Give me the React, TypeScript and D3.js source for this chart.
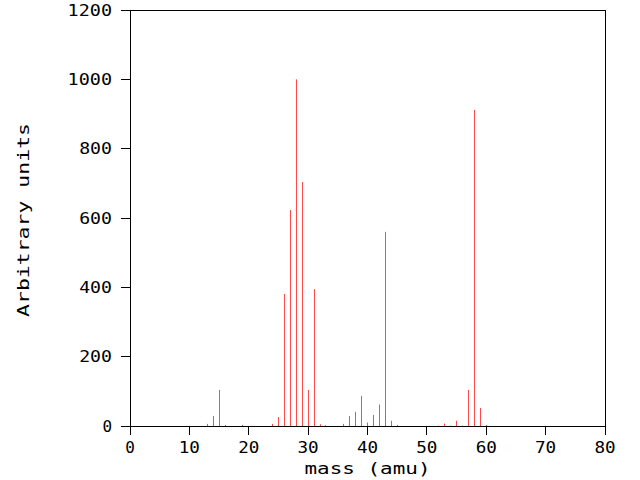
import React from "react";
import * as d3 from "d3";

const masses = [13, 14, 15, 16, 19, 24, 25, 26, 27, 28, 29, 30, 31, 32, 33, 36, 37, 38, 39, 40, 41, 42, 43, 44, 45, 52, 53, 54, 55, 56, 57, 58, 59, 60];
const intensities = [6, 29, 104, 3, 3, 6, 26, 381, 623, 1000, 704, 104, 395, 5, 2, 6, 29, 41, 87, 10, 32, 62, 560, 15, 3, 1, 7, 1, 15, 1, 104, 912, 52, 3];
const xTicks = [0, 10, 20, 30, 40, 50, 60, 70, 80];
const yTicks = [0, 200, 400, 600, 800, 1000, 1200];
const xLabel = "mass (amu)";
const yLabel = "Arbitrary units";

const W = 640;
const H = 480;
const left = 130;
const right = 605;
const top = 10;
const bottom = 426;
const font = "'DejaVu Sans Mono', monospace";
const pitch = 11.6;

export default function App() {
  const x = d3.scaleLinear().domain([0, 80]).range([left, right]);
  const y = d3.scaleLinear().domain([0, 1200]).range([bottom, top]);
  const px = (v: number) => Math.floor(v) + 0.5;

  return (
    <svg width={W} height={H} style={{ position: "absolute", left: 0, top: 0, background: "#fff" }}>
      <rect x={0} y={0} width={W} height={H} fill="#fff" />
      {masses.map((m, i) => (
        <line
          key={m}
          x1={px(x(m))}
          x2={px(x(m))}
          y1={bottom}
          y2={y(intensities[i])}
          stroke="#ff4a4a"
          strokeWidth={1}
        />
      ))}
      <rect x={left + 0.5} y={top + 0.5} width={right - left} height={bottom - top} fill="none" stroke="#000" strokeWidth={1} />
      {xTicks.map((t) => (
        <g key={"x" + t}>
          <line x1={px(x(t))} x2={px(x(t))} y1={bottom} y2={bottom + 9} stroke="#000" />
          <text
            x={x(t)}
            y={453}
            textAnchor="middle"
            fontFamily={font}
            fontSize={15}
            textLength={String(t).length * pitch - 2}
            lengthAdjust="spacingAndGlyphs"
          >
            {t}
          </text>
        </g>
      ))}
      {yTicks.map((t) => (
        <g key={"y" + t}>
          <line x1={121} x2={left} y1={px(y(t))} y2={px(y(t))} stroke="#000" />
          <text
            x={112}
            y={y(t) + 5.5}
            textAnchor="end"
            fontFamily={font}
            fontSize={15}
            textLength={String(t).length * pitch - 2}
            lengthAdjust="spacingAndGlyphs"
          >
            {t}
          </text>
        </g>
      ))}
      <text
        x={(left + right) / 2}
        y={474}
        textAnchor="middle"
        fontFamily={font}
        fontSize={15}
        textLength={126}
        lengthAdjust="spacingAndGlyphs"
      >
        {xLabel}
      </text>
      <text
        transform={`translate(29,220) rotate(-90)`}
        textAnchor="middle"
        fontFamily={font}
        fontSize={15}
        textLength={194}
        lengthAdjust="spacingAndGlyphs"
      >
        {yLabel}
      </text>
    </svg>
  );
}
